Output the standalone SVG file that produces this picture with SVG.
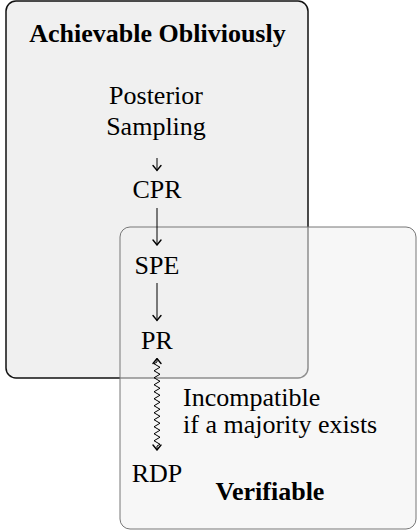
<svg xmlns="http://www.w3.org/2000/svg" width="417" height="531" viewBox="0 0 417 531">
<style>
text{font-family:"Liberation Serif","Times New Roman",serif;font-size:26px;fill:#000}
.b{font-weight:bold}
.m{text-anchor:middle}
.c{fill:none;stroke:#000;stroke-width:1}
</style>
<defs>
<marker id="arr" viewBox="-7 -5 8 10" refX="0" refY="0" markerWidth="8" markerHeight="10" markerUnits="userSpaceOnUse" orient="auto-start-reverse">
<path d="M-5,-4 Q-1.5,-1.2 0,0 Q-1.5,1.2 -5,4" fill="none" stroke="#000" stroke-width="1.4" stroke-linecap="round"/>
</marker>
</defs>
<g id="achievable">
<rect x="6" y="1" width="302" height="377" rx="10" fill="#f0f0f0" stroke="#111" stroke-width="1.5"/>
<text class="b m" x="157.5" y="42">Achievable Obliviously</text>
</g>
<g id="verifiable">
<rect x="120" y="227" width="296" height="302" rx="10" fill="#f1f1f1" fill-opacity="0.56" stroke="#777" stroke-width="1"/>
<text class="b m" x="270" y="500">Verifiable</text>
</g>
<g id="posterior"><text class="m" x="156" y="104">Posterior</text><text class="m" x="156" y="135">Sampling</text></g>
<g id="cpr"><text class="m" x="157" y="198">CPR</text></g>
<g id="spe"><text class="m" x="157" y="274">SPE</text></g>
<g id="pr"><text class="m" x="157" y="349">PR</text></g>
<g id="rdp"><text class="m" x="157" y="482">RDP</text></g>
<g id="connectors">
<path class="c" d="M157,158 V170.5" marker-end="url(#arr)"/>
<path class="c" d="M157,208 V245" marker-end="url(#arr)"/>
<path class="c" d="M157,283 V320.5" marker-end="url(#arr)"/>
<path class="c" d="M157,358.5 L157,362 L154,363.75 L160,367.25 L154,370.75 L160,374.25 L154,377.75 L160,381.25 L154,384.75 L160,388.25 L154,391.75 L160,395.25 L154,398.75 L160,402.25 L154,405.75 L160,409.25 L154,412.75 L160,416.25 L154,419.75 L160,423.25 L154,426.75 L160,430.25 L154,433.75 L160,437.25 L154,440.75 L160,444.25 L157,446 L157,450" marker-start="url(#arr)" marker-end="url(#arr)"/>
<text x="183" y="406">Incompatible</text>
<text x="183" y="432.5">if a majority exists</text>
</g>
</svg>
